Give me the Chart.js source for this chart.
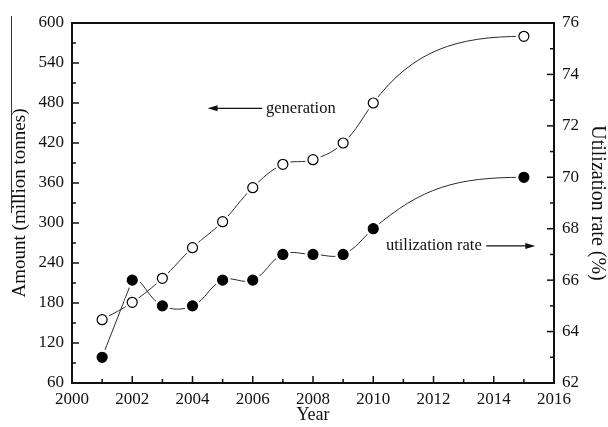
<!DOCTYPE html>
<html>
<head>
<meta charset="utf-8">
<script src="https://cdn.jsdelivr.net/npm/chart.js@4.4.0/dist/chart.umd.min.js"></script>
<style>
    html, body { margin: 0; padding: 0; background: #fff; }
    #wrap { width: 608px; height: 427px; }
</style>
</head>
<body>
<div id="wrap"><canvas id="myChart" width="608" height="427"></canvas></div>
<script>
// values
const years = [2001, 2002, 2003, 2004, 2005, 2006, 2007, 2008, 2009, 2010, 2015];
const generation = [155, 181, 217, 263, 302, 353, 388, 395, 420, 480, 580];
const utilization = [63, 66, 65, 65, 66, 66, 67, 67, 67, 68, 70];

const serif = "'Liberation Serif', 'DejaVu Serif', serif";
const ink = '#111';

function points(vals) {
    return years.map(function (yr, i) {
        return { x: yr, y: vals[i] };
    });
}

function curve(vals, axis) {
    return {
        data: points(vals),
        yAxisID: axis,
        borderColor: '#2a2a2a',
        borderWidth: 1,
        pointRadius: 0,
        tension: 0.4,
        fill: false,
        order: 3
    };
}

function halo(vals, axis) {
    return {
        data: points(vals),
        yAxisID: axis,
        showLine: false,
        pointRadius: 8,
        pointBorderWidth: 0,
        pointBackgroundColor: '#fff',
        pointBorderColor: '#fff',
        order: 2
    };
}

function markers(vals, axis, fillColor) {
    return {
        data: points(vals),
        yAxisID: axis,
        showLine: false,
        pointRadius: 5,
        pointBorderWidth: 1.2,
        pointBackgroundColor: fillColor,
        pointBorderColor: '#000',
        order: 1
    };
}

// the original spline leaves 2010 steeply and reaches 2015 flat;
// the first utilization piece is a straight segment
const endTangent = {
    id: 'endTangent',
    beforeDatasetsDraw(chart) {
        [0, 1].forEach(function (di) {
            const line = chart.getDatasetMeta(di).dataset;
            line.updateControlPoints(chart.chartArea, 'x');
            const pts = line.points;
            const n = pts.length;
            const last = pts[n - 1], prev = pts[n - 2], pp = pts[n - 3];
            const dx = prev.x - pp.x, dy = prev.y - pp.y;
            const d01 = Math.hypot(dx, dy);
            const d12 = Math.hypot(last.x - prev.x, last.y - prev.y);
            const ux = dx / d01, uy = dy / d01;
            prev.cp1x = prev.x - ux * 0.4 * d01;
            prev.cp1y = prev.y - uy * 0.4 * d01;
            prev.cp2x = prev.x + ux * 0.4 * d12;
            prev.cp2y = prev.y + uy * 0.4 * d12;
            last.cp1x = last.x - (last.x - prev.x) * 0.45;
            last.cp1y = last.y;
            if (di === 1) {
                pts[0].cp2x = pts[0].x;
                pts[0].cp2y = pts[0].y;
                pts[1].cp1x = pts[1].x;
                pts[1].cp1y = pts[1].y;
            }
            line._path = undefined;
        });
    }
};

// box, inward ticks, arrows and the labels inside the plot
const decorations = {
    id: 'decorations',
    afterDatasetsDraw(chart) {
        const ctx = chart.ctx;
        const a = chart.chartArea;
        const sx = chart.scales.x, sy = chart.scales.y, sr = chart.scales.y1;
        ctx.save();

        // inward tick marks
        ctx.strokeStyle = ink;
        ctx.lineWidth = 1.5;
        function tick(x1, y1, x2, y2) {
            ctx.beginPath();
            ctx.moveTo(x1, y1);
            ctx.lineTo(x2, y2);
            ctx.stroke();
        }
        const xt = sx.ticks.map(t => t.value);
        xt.forEach(function (v, i) {
            const px = sx.getPixelForValue(v);
            tick(px, a.bottom, px, a.bottom - 7);
            if (i < xt.length - 1) {
                const m = sx.getPixelForValue((v + xt[i + 1]) / 2);
                tick(m, a.bottom, m, a.bottom - 4);
            }
        });
        const yt = sy.ticks.map(t => t.value);
        yt.forEach(function (v, i) {
            const py = sy.getPixelForValue(v);
            tick(a.left, py, a.left + 7, py);
            if (i < yt.length - 1) {
                const m = sy.getPixelForValue((v + yt[i + 1]) / 2);
                tick(a.left, m, a.left + 4, m);
            }
        });
        const rt = sr.ticks.map(t => t.value);
        rt.forEach(function (v, i) {
            const py = sr.getPixelForValue(v);
            tick(a.right, py, a.right - 7, py);
            if (i < rt.length - 1) {
                const m = sr.getPixelForValue((v + rt[i + 1]) / 2);
                tick(a.right, m, a.right - 4, m);
            }
        });

        // frame
        ctx.lineWidth = 2;
        ctx.strokeRect(a.left, a.top, a.right - a.left, a.bottom - a.top);

        // annotations
        ctx.fillStyle = ink;
        ctx.font = '16.5px ' + serif;
        ctx.textBaseline = 'middle';

        function arrow(x1, x2, y) {
            const dir = x2 > x1 ? 1 : -1;
            ctx.lineWidth = 1.2;
            ctx.beginPath();
            ctx.moveTo(x1, y);
            ctx.lineTo(x2 - dir * 6, y);
            ctx.stroke();
            ctx.beginPath();
            ctx.moveTo(x2, y);
            ctx.lineTo(x2 - dir * 10, y - 3);
            ctx.lineTo(x2 - dir * 10, y + 3);
            ctx.closePath();
            ctx.fill();
        }

        const gy = sy.getPixelForValue(472);
        ctx.textAlign = 'left';
        ctx.fillText('generation', sx.getPixelForValue(2006.44), gy);
        arrow(sx.getPixelForValue(2006.31), sx.getPixelForValue(2004.5), gy);

        const uy = sr.getPixelForValue(67.33);
        ctx.textAlign = 'right';
        ctx.fillText('utilization rate', sx.getPixelForValue(2013.6), uy);
        arrow(sx.getPixelForValue(2013.75), sx.getPixelForValue(2015.38), uy);

        ctx.restore();
    },
    afterDraw(chart) {
        // the overline that sits over the left axis title in the original
        const ctx = chart.ctx;
        ctx.save();
        ctx.strokeStyle = '#333';
        ctx.lineWidth = 1;
        ctx.beginPath();
        ctx.moveTo(11.5, 16);
        ctx.lineTo(11.5, 213);
        ctx.stroke();
        ctx.restore();
    }
};

new Chart("myChart", {
    type: 'line',
    data: {
        datasets: [
            curve(generation, 'y'),
            curve(utilization, 'y1'),
            halo(generation, 'y'),
            halo(utilization, 'y1'),
            markers(generation, 'y', '#fff'),
            markers(utilization, 'y1', '#000')
        ]
    },
    options: {
        responsive: false,
        animation: false,
        layout: {
            padding: { top: 23, left: 0, right: 0, bottom: 0 }
        },
        plugins: {
            legend: { display: false },
            tooltip: { enabled: false }
        },
        scales: {
            x: {
                type: 'linear',
                min: 2000,
                max: 2016,
                grid: { display: false, drawTicks: false, tickLength: 0 },
                border: { display: false },
                ticks: {
                    stepSize: 2,
                    padding: 6,
                    color: ink,
                    maxRotation: 0,
                    font: { family: serif, size: 17 },
                    callback: v => String(v)
                },
                title: {
                    display: true,
                    text: 'Year',
                    color: ink,
                    padding: { top: 0, bottom: 3 },
                    font: { family: serif, size: 18, lineHeight: 1 }
                },
                afterFit: function (scale) { scale.height = 44; }
            },
            y: {
                position: 'left',
                min: 60,
                max: 600,
                grid: { display: false, drawTicks: false, tickLength: 0 },
                border: { display: false },
                ticks: {
                    stepSize: 60,
                    padding: 8,
                    color: ink,
                    font: { family: serif, size: 17 }
                },
                title: {
                    display: true,
                    text: 'Amount (million tonnes)',
                    color: ink,
                    padding: { top: 10.5, bottom: 0 },
                    font: { family: serif, size: 19, lineHeight: 1 }
                },
                afterFit: function (scale) { scale.width = 72; }
            },
            y1: {
                position: 'right',
                min: 62,
                max: 76,
                grid: { display: false, drawTicks: false, tickLength: 0 },
                border: { display: false },
                ticks: {
                    stepSize: 2,
                    padding: 8,
                    color: ink,
                    font: { family: serif, size: 17 }
                },
                title: {
                    display: true,
                    text: 'Utilization rate (%)',
                    color: ink,
                    padding: { top: 1, bottom: 0 },
                    font: { family: serif, size: 20, lineHeight: 1 }
                },
                afterFit: function (scale) { scale.width = 54; }
            }
        }
    },
    plugins: [endTangent, decorations]
});
</script>
</body>
</html>
